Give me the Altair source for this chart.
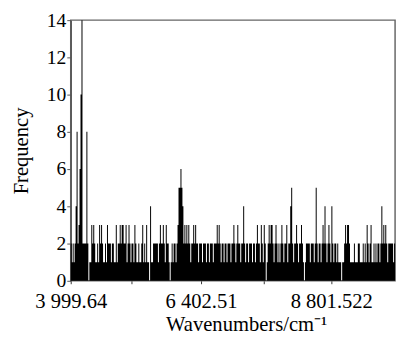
import altair as alt
import pandas as pd

# histogram: first bin start, bin width (cm^-1), frequency per bin
bin_start0 = 3999.64
bin_width = 18.06
frequency = [
    2, 1, 2, 1, 2, 4, 8, 2, 3, 6, 10, 14, 2, 2, 2, 2, 8, 2, 0, 1,          # 72-91
    1, 3, 2, 3, 2, 1, 1, 2, 1, 3, 2, 3, 2, 1, 1, 2, 1, 3, 2, 2,            # 92-111
    2, 1, 2, 2, 1, 1, 3, 1, 2, 2, 3, 2, 3, 3, 2, 2, 3, 1, 2, 3,            # 112-131
    2, 1, 2, 2, 1, 3, 2, 1, 1, 2, 1, 1, 2, 3, 1, 2, 1, 3, 1, 1,            # 132-151
    0, 4, 1, 1, 2, 2, 2, 2, 2, 1, 2, 3, 2, 2, 3, 2, 1, 3, 2, 2,            # 152-171
    1, 0, 1, 2, 1, 2, 2, 1, 2, 3, 5, 5, 6, 5, 4, 2, 3, 2, 3, 2,            # 172-191
    3, 2, 1, 2, 2, 3, 2, 3, 2, 2, 1, 2, 2, 2, 1, 2, 2, 2, 1, 2,            # 192-211
    2, 1, 2, 2, 2, 1, 2, 2, 2, 3, 2, 3, 2, 1, 2, 2, 1, 2, 2, 1,            # 212-231
    2, 2, 2, 1, 2, 2, 3, 2, 1, 2, 3, 2, 2, 1, 2, 2, 4, 2, 1, 2,            # 232-251
    2, 1, 2, 2, 2, 1, 2, 2, 1, 2, 3, 2, 2, 1, 3, 2, 1, 3, 2, 0,            # 252-271
    1, 2, 3, 2, 3, 3, 2, 1, 2, 3, 2, 1, 2, 1, 2, 3, 2, 1, 2, 2,            # 272-291
    3, 1, 2, 2, 4, 5, 2, 1, 2, 2, 3, 2, 1, 2, 2, 3, 2, 1, 0, 1,            # 292-311
    2, 2, 2, 2, 1, 2, 2, 2, 1, 2, 5, 2, 1, 2, 2, 1, 2, 3, 2, 4,            # 312-331
    2, 1, 2, 3, 2, 1, 4, 2, 1, 2, 2, 1, 2, 1, 1, 1, 0, 1, 1, 2,            # 332-351
    3, 2, 3, 3, 2, 1, 1, 1, 1, 2, 1, 1, 1, 2, 2, 1, 1, 1, 2, 1,            # 352-371
    2, 1, 3, 2, 1, 2, 3, 1, 1, 2, 1, 2, 1, 2, 2, 1, 2, 4, 2, 3,            # 372-391
    2, 3, 2, 1, 2, 2, 2, 2, 2, 1, 2,                                       # 392-402
]

x_tick_values = [3999.64, 5120, 6402.51, 7560, 8801.522]
x_tick_labels = ["3 999.64", "", "6 402.51", "", "8 801.522"]
y_tick_values = [0, 2, 4, 6, 8, 10, 12, 14]

n = len(frequency)
# step outline: each bin's left edge, plus the right edge of the last bin
df = pd.DataFrame({
    "x": [bin_start0 + i * bin_width for i in range(n)] + [bin_start0 + n * bin_width],
    "freq": frequency + [frequency[-1]],
})

label_expr = " : ".join(
    f"datum.value == {v} ? '{t}'" for v, t in zip(x_tick_values, x_tick_labels)
) + " : ''"

font = "Liberation Serif"

chart = alt.Chart(df).mark_area(color="black", interpolate="step-after", opacity=1).encode(
    x=alt.X("x:Q",
            scale=alt.Scale(domain=[bin_start0, bin_start0 + n * bin_width], nice=False, zero=False),
            axis=alt.Axis(values=x_tick_values, labelExpr=label_expr, title="Wavenumbers/cm⁻¹",
                          grid=False, domain=False, tickSize=3, tickColor="#333",
                          labelFont=font, labelFontSize=21, labelColor="black", labelPadding=7,
                          labelFlush=False,
                          titleFont=font, titleFontSize=21, titleFontWeight="normal",
                          titleColor="black", titlePadding=3, titleX=179, titleAlign="center")),
    y=alt.Y("freq:Q",
            scale=alt.Scale(domain=[0, 14], nice=False),
            axis=alt.Axis(values=y_tick_values, title="Frequency", grid=False,
                          domainColor="#555", domainWidth=1.5, tickColor="#555", tickSize=4,
                          labelFont=font, labelFontSize=20, labelColor="black", labelPadding=1,
                          labelFlush=False,
                          titleFont=font, titleFontSize=21, titleFontWeight="normal",
                          titleColor="black", titlePadding=15)),
).properties(
    width=331, height=266,
    autosize=alt.AutoSizeParams(type="none"),
    padding={"left": 64, "top": 9, "right": 4, "bottom": 56},
).configure_view(stroke="#666", strokeWidth=1.5)

chart.save("out.html", embed_options={"renderer": "svg", "actions": False})
